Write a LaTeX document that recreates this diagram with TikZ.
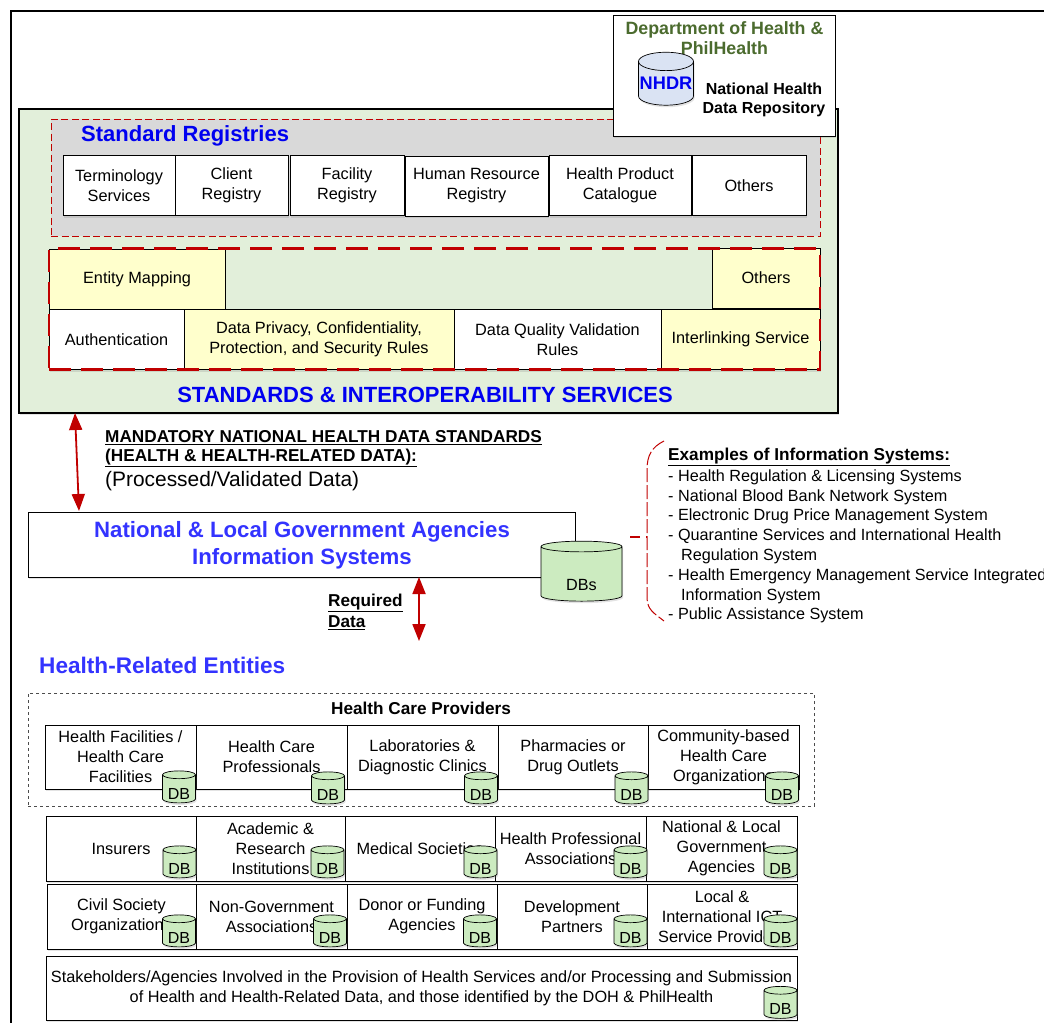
\documentclass[tikz,border=0pt]{standalone}
\usepackage{fontspec}
\setmainfont{Liberation Sans}
\usetikzlibrary{arrows.meta,shapes.geometric,shadows}
\definecolor{panelgreen}{HTML}{E2EFDA}
\definecolor{greyfill}{HTML}{D9D9D9}
\definecolor{paleyellow}{HTML}{FFFFCC}
\definecolor{dbgreen}{HTML}{CCEBC0}
\definecolor{dbblue}{HTML}{DAE3F3}
\definecolor{linered}{HTML}{C00000}
\definecolor{titleblue}{HTML}{0000F0}
\definecolor{softblue}{HTML}{3333FF}
\definecolor{depgreen}{HTML}{4B6B2E}
\tikzset{
    softshadow/.style={drop shadow={shadow xshift=1pt,shadow yshift=-2pt,opacity=.22}},
    cell/.style={draw,fill=white,line width=.7pt,align=center,inner sep=0pt,font=\fontsize{16.3}{20}\selectfont,softshadow},
    yellowcell/.style={cell,fill=paleyellow},
    regcell/.style={cell,minimum height=60pt},
    svccell/.style={cell,minimum height=60pt},
    svcyellow/.style={yellowcell,minimum height=60pt},
    entcell/.style={cell,minimum height=65pt},
    bluetitle/.style={text=titleblue,font=\bfseries\fontsize{22}{26}\selectfont,inner sep=0pt},
    softtitle/.style={text=softblue,font=\bfseries\fontsize{22.2}{27}\selectfont,inner sep=0pt,align=center},
    boldunder/.style={font=\bfseries\fontsize{17.2}{20}\selectfont,inner sep=0pt,anchor=west},
    listline/.style={font=\fontsize{16.2}{20}\selectfont,inner sep=0pt,anchor=west},
    tank/.style={draw,cylinder,shape border rotate=90,aspect=.35,inner sep=0pt,line width=.7pt,softshadow},
    db/.style={tank,fill=dbgreen,minimum width=33pt,minimum height=31pt,text height=20pt,font=\fontsize{16}{18}\selectfont},
    redarrow/.style={{Triangle[length=17pt,width=13pt]}-{Triangle[length=17pt,width=13pt]},draw=linered,fill=linered,line width=1.8pt},
    bracket/.style={draw=linered,line width=1pt,dash pattern=on 14pt off 3pt}
}
\begin{document}
\begin{tikzpicture}[x=1pt,y=-1pt]
    \useasboundingbox (0,0) rectangle (1044,1023);
    \coordinate (framea) at (1044,11);
    \coordinate (frameb) at (11,11);
    \coordinate (framec) at (11,1023);
    \draw[line width=2pt] (framea) -- (frameb) -- (framec);

    % standards panel
    \node (panel) at (428.5,261) [draw,fill=panelgreen,line width=2pt,minimum width=819pt,minimum height=304pt,softshadow] {};
    \node (registries) at (435.5,177.5) [draw=linered,fill=greyfill,line width=1pt,dash pattern=on 7pt off 3.5pt,minimum width=769pt,minimum height=117pt] {};
    \node (regtitle) at (81,136) [bluetitle,anchor=west] {Standard Registries};

    \node (term) at (119,185.5) [regcell,minimum width=112pt] {Terminology\\Services};
    \node (client) at (231.5,185.5) [regcell,minimum width=113pt] {Client\\Registry};
    \node (facility) at (347,185.5) [regcell,minimum width=114pt] {Facility\\Registry};
    \node (human) at (476.5,186) [regcell,minimum width=143pt] {Human Resource\\Registry};
    \node (product) at (620,185.5) [regcell,minimum width=142pt] {Health Product\\Catalogue};
    \node (regothers) at (749,185.5) [regcell,minimum width=114pt] {Others};

    \node (mapping) at (137,279) [svcyellow,minimum width=176pt] {Entity Mapping};
    \node (svcothers) at (766,278) [svcyellow,minimum width=108pt] {Others};
    \node (auth) at (116.5,339.5) [svccell,minimum width=135pt] {Authentication};
    \node (privacy) at (319,339.5) [svcyellow,minimum width=270pt] {Data Privacy, Confidentiality,\\Protection, and Security Rules};
    \node (quality) at (557.5,339.5) [svccell,minimum width=207pt] {Data Quality Validation\\Rules};
    \node (linking) at (740.5,339.5) [svcyellow,minimum width=159pt] {Interlinking Service};
    \node (services) at (434.5,309) [draw=linered,line width=2.6pt,dash pattern=on 22pt off 10pt,minimum width=771pt,minimum height=121pt] {};
    \node (svctitle) at (425,394.5) [bluetitle] {STANDARDS \& INTEROPERABILITY SERVICES};

    % department box
    \node (dept) at (724,75.5) [draw,fill=white,line width=1pt,minimum width=222pt,minimum height=121pt,softshadow] {};
    \node (depttitle) at (724.5,38) [align=center,inner sep=0pt,text=depgreen,font=\bfseries\fontsize{17.8}{19.5}\selectfont] {Department of Health \&\\PhilHealth};
    \node (nhdr) at (666,83.5) [tank,fill=dbblue,minimum width=55pt,minimum height=53pt,text=titleblue,font=\bfseries\fontsize{18.2}{20}\selectfont] {NHDR};
    \node (nhdrname) at (764,99.5) [align=center,inner sep=0pt,font=\bfseries\fontsize{16}{19}\selectfont] {National Health\\Data Repository};

    % government agencies
    \coordinate (stdtop) at (75,413);
    \coordinate (stdend) at (79,511);
    \draw[redarrow] (stdtop) -- (stdend);
    \node (stdline) at (105,438) [boldunder] {\underline{MANDATORY NATIONAL HEALTH DATA STANDARDS}};
    \node (stdlinetwo) at (105,458) [boldunder] {\underline{(HEALTH \& HEALTH-RELATED DATA):}};
    \node (processed) at (105,481) [inner sep=0pt,anchor=west,font=\fontsize{20.9}{24}\selectfont] {(Processed/Validated Data)};
    \node (gov) at (301.5,544.5) [draw,fill=white,line width=.7pt,minimum width=547pt,minimum height=65pt,softshadow] {};
    \node (govtitle) at (302,545) [softtitle] {National \& Local Government Agencies\\Information Systems};
    \node (dbs) at (581.5,574) [tank,fill=dbgreen,minimum width=81pt,minimum height=60pt,text height=34pt,font=\fontsize{16.2}{18}\selectfont] {DBs};
    \coordinate (reqtop) at (419,577);
    \coordinate (reqend) at (419,641);
    \draw[redarrow] (reqtop) -- (reqend);
    \node (reqline) at (328,603) [boldunder] {\underline{Required}};
    \node (reqlinetwo) at (328,623) [boldunder] {\underline{Data}};

    % examples list
    \coordinate (brtop) at (664,441);
    \coordinate (brup) at (647,470);
    \coordinate (brlow) at (647,597);
    \coordinate (brend) at (664,621);
    \coordinate (tickin) at (630,537);
    \coordinate (tickout) at (647,537);
    \draw[bracket] (brtop) .. controls (652,447) and (647,455) .. (brup) -- (brlow) .. controls (647,610) and (654,613) .. (brend);
    \draw[draw=linered,line width=1.2pt,dash pattern=on 10pt off 6pt on 2pt off 1pt] (tickin) -- (tickout);
    \node (exhead) at (668,457) [boldunder] {\underline{Examples of Information Systems:}};
    \node (ex1) at (668,477) [listline] {- Health Regulation \& Licensing Systems};
    \node (ex2) at (668,497) [listline] {- National Blood Bank Network System};
    \node (ex3) at (668,516) [listline] {- Electronic Drug Price Management System};
    \node (ex4) at (668,536) [listline] {- Quarantine Services and International Health};
    \node (ex4b) at (681,556) [listline] {Regulation System};
    \node (ex5) at (668,576) [listline] {- Health Emergency Management Service Integrated};
    \node (ex5b) at (681,596) [listline] {Information System};
    \node (ex6) at (668,615) [listline] {- Public Assistance System};

    % health-related entities
    \node (enttitle) at (39,665.5) [softtitle,anchor=west,font=\bfseries\fontsize{22.6}{27}\selectfont] {Health-Related Entities};
    \node (providers) at (421,749.5) [draw=black!70,line width=.7pt,dashed,minimum width=786pt,minimum height=113pt] {};
    \node (provtitle) at (421,708) [inner sep=0pt,font=\bfseries\fontsize{17.2}{20}\selectfont] {Health Care Providers};

    \node (fac) at (120.5,757) [entcell,minimum width=151pt,minimum height=64pt] {Health Facilities /\\Health Care\\Facilities};
    \node (prof) at (271.5,757) [entcell,minimum width=151pt,minimum height=64pt] {Health Care\\Professionals};
    \node (labs) at (422.5,757) [entcell,minimum width=151pt,minimum height=64pt] {Laboratories \&\\Diagnostic Clinics};
    \node (pharm) at (573,757) [entcell,minimum width=150pt,minimum height=64pt] {Pharmacies or\\Drug Outlets};
    \node (comm) at (723.5,757) [entcell,minimum width=151pt,minimum height=64pt] {Community-based\\Health Care\\Organizations};

    \node (insur) at (121,848.5) [entcell,minimum width=150pt] {Insurers};
    \node (acad) at (270.5,848.5) [entcell,minimum width=149pt] {Academic \&\\Research\\Institutions};
    \node (medsoc) at (420,848.5) [entcell,minimum width=150pt] {Medical Societies};
    \node (hpa) at (570.5,848.5) [entcell,minimum width=151pt] {Health Professional\\Associations};
    \node (natloc) at (721.5,848.5) [entcell,minimum width=151pt] {National \& Local\\Government\\Agencies};

    \node (civil) at (121.5,916.5) [entcell,minimum width=149pt] {Civil Society\\Organizations};
    \node (ngo) at (271.5,916.5) [entcell,minimum width=151pt] {Non-Government\\Associations};
    \node (donor) at (422,916.5) [entcell,minimum width=150pt] {Donor or Funding\\Agencies};
    \node (dev) at (572,916.5) [entcell,minimum width=150pt] {Development\\Partners};
    \node (ictprov) at (722,916.5) [entcell,minimum width=150pt] {Local \&\\International ICT\\Service Providers};

    \node (stake) at (421.5,988) [entcell,minimum width=751pt,minimum height=64pt] {Stakeholders/Agencies Involved in the Provision of Health Services and/or Processing and Submission\\of Health and Health-Related Data, and those identified by the DOH \& PhilHealth};

    \node (dbfac) at (179,789) [db] {DB};
    \node (dbprof) at (328,790) [db] {DB};
    \node (dblabs) at (481,790) [db] {DB};
    \node (dbpharm) at (631.5,790) [db] {DB};
    \node (dbcomm) at (782,790) [db] {DB};
    \node (dbinsur) at (179.5,864) [db] {DB};
    \node (dbacad) at (327.5,864) [db] {DB};
    \node (dbmed) at (480.5,864) [db] {DB};
    \node (dbhpa) at (630.5,864) [db] {DB};
    \node (dbnat) at (780.5,864) [db] {DB};
    \node (dbcivil) at (179,933) [db] {DB};
    \node (dbngo) at (330,933) [db] {DB};
    \node (dbdonor) at (480,933) [db] {DB};
    \node (dbdev) at (630.5,933) [db] {DB};
    \node (dbict) at (780.5,933) [db] {DB};
    \node (dbstake) at (780.5,1004.5) [db] {DB};
\end{tikzpicture}
\end{document}
